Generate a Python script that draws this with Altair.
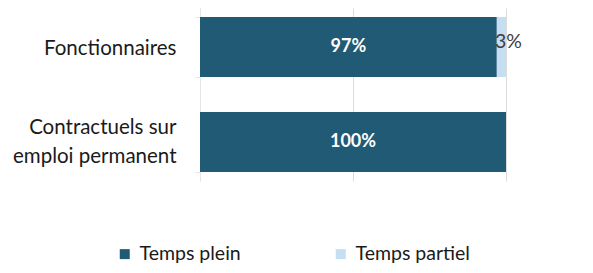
import altair as alt
import pandas as pd

categories = ["Fonctionnaires", "Contractuels sur emploi permanent"]
series = ["Temps plein", "Temps partiel"]
temps_plein = [97, 100]
temps_partiel = [3, 0]

rows = []
for i, c in enumerate(categories):
    for j, (s, v) in enumerate(zip(series, [temps_plein[i], temps_partiel[i]])):
        rows.append({"cat": c, "serie": s, "value": v, "ord": j})
df = pd.DataFrame(rows)

FONT = "Lato"
DARK = "#215a74"
LIGHT = "#c6def2"

y_enc = alt.Y(
    "cat:N",
    sort=categories,
    title=None,
    scale=alt.Scale(paddingInner=0.368, paddingOuter=0.095),
    axis=alt.Axis(
        labelFont=FONT,
        labelFontSize=20.5,
        labelColor="#1a1a1a",
        labelPadding=19,
        labelLineHeight=29,
        labelExpr="datum.value == 'Contractuels sur emploi permanent' ? ['Contractuels sur', 'emploi permanent'] : datum.value",
        labelOffset={"condition": {"test": "datum.value == 'Contractuels sur emploi permanent'", "value": -14}, "value": 1},
        domainColor="#e6e6e6",
        tickColor="#e6e6e6",
        tickSize=5,
        tickBand="extent",
        grid=False,
    ),
)

base = alt.Chart(df)

bars = base.mark_bar(size=60).encode(
    y=y_enc,
    x=alt.X(
        "value:Q",
        stack="zero",
        title=None,
        scale=alt.Scale(domain=[0, 100], nice=False),
        axis=alt.Axis(values=[0, 50, 100], labels=False, ticks=False, domain=False,
                      gridColor="#dcdcdc", gridWidth=1),
    ),
    color=alt.Color(
        "serie:N",
        scale=alt.Scale(domain=series, range=[DARK, LIGHT]),
        legend=alt.Legend(
            title=None,
            orient="none",
            legendX=-85,
            legendY=236,
            direction="horizontal",
            symbolType="square",
            symbolSize=100,
            symbolStrokeWidth=0,
            labelFont=FONT,
            labelFontSize=19.5,
            labelColor="#1a1a1a",
            labelOffset=5,
            columnPadding=90,
        ),
    ),
    order=alt.Order("ord:Q"),
)

labeled = base.transform_window(
    cum="sum(value)", groupby=["cat"], sort=[alt.SortField("ord")]
).transform_calculate(mid="datum.cum - datum.value / 2")

lab_full = labeled.transform_filter("datum.ord == 0").mark_text(
    font=FONT, fontSize=18, fontWeight="bold", color="white"
).encode(
    y=alt.Y("cat:N", sort=categories),
    x=alt.X("mid:Q"),
    text=alt.Text("label:N"),
).transform_calculate(label="datum.value + '%'")

lab_part = labeled.transform_filter("datum.ord == 1 && datum.value > 0").mark_text(
    font=FONT, fontSize=19.5, color="#404040", dx=7, dy=-5
).encode(
    y=alt.Y("cat:N", sort=categories),
    x=alt.X("mid:Q"),
    text=alt.Text("label:N"),
).transform_calculate(label="datum.value + '%'")

chart = alt.layer(bars, lab_full, lab_part).properties(
    width=306,
    height=173,
    autosize=alt.AutoSizeParams(type="none"),
    padding={"left": 192, "top": 0, "right": 79, "bottom": 84},
).configure_view(stroke=None)

chart.save("out.html", embed_options={"renderer": "svg", "actions": False})
